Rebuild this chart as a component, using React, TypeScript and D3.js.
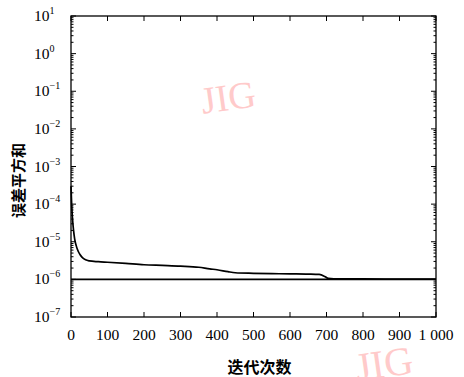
import React, { useEffect, useRef } from 'react';
import * as d3 from 'd3';

// iterations vs. sum of squared error
const iterations = [0, 1, 2, 3, 5, 7, 10, 14, 20, 25, 30, 40, 50, 75, 100, 150, 200, 250, 300, 350, 380, 400, 430, 450, 500, 550, 600, 650, 680, 695, 705, 720, 800, 900, 1000];
const sse = [3e-4, 1.6e-4, 9e-5, 6e-5, 3.2e-5, 2e-5, 1.2e-5, 8e-6, 5.5e-6, 4.5e-6, 3.9e-6, 3.3e-6, 3.1e-6, 2.95e-6, 2.85e-6, 2.65e-6, 2.45e-6, 2.35e-6, 2.25e-6, 2.1e-6, 1.9e-6, 1.8e-6, 1.6e-6, 1.5e-6, 1.45e-6, 1.42e-6, 1.4e-6, 1.38e-6, 1.35e-6, 1.2e-6, 1.06e-6, 1.04e-6, 1.03e-6, 1.02e-6, 1.02e-6];
const goal = 1e-6;
const xTicks = [0, 100, 200, 300, 400, 500, 600, 700, 800, 900, 1000];
const yExponents = [1, 0, -1, -2, -3, -4, -5, -6, -7];
const xTitle = '迭代次数';
const yTitle = '误差平方和';

const W = 464;
const H = 377;
const m = { left: 71, right: 436, top: 16, bottom: 317 };

const App = () => {
  const ref = useRef<SVGSVGElement>(null);

  useEffect(() => {
    const svg = d3.select(ref.current);
    svg.selectAll('*').remove();

    const x = d3.scaleLinear().domain([0, 1000]).range([m.left, m.right]);
    const y = d3.scaleLog().domain([1e-7, 10]).range([m.bottom, m.top]);

    const serif = '"Liberation Serif", "DejaVu Serif", serif';
    const cjk = '"Noto Sans CJK SC", sans-serif';

    // watermarks
    svg.append('text')
      .attr('transform', 'translate(230,110) rotate(-8)')
      .attr('text-anchor', 'middle')
      .style('font-family', serif)
      .style('font-size', '38px')
      .attr('fill', '#ffcaca')
      .text('JIG');
    svg.append('text')
      .attr('transform', 'translate(386,377) rotate(-8)')
      .attr('text-anchor', 'middle')
      .style('font-family', serif)
      .style('font-size', '40px')
      .attr('fill', '#ffcaca')
      .text('JIG');

    // frame
    svg.append('rect')
      .attr('x', m.left).attr('y', m.top)
      .attr('width', m.right - m.left).attr('height', m.bottom - m.top)
      .attr('fill', 'none').attr('stroke', '#000').attr('stroke-width', 1.3);

    // x ticks (inward, bottom and top)
    const g = svg.append('g').attr('stroke', '#000').attr('stroke-width', 1);
    xTicks.forEach(t => {
      g.append('line').attr('x1', x(t)).attr('x2', x(t)).attr('y1', m.bottom).attr('y2', m.bottom - 5);
      g.append('line').attr('x1', x(t)).attr('x2', x(t)).attr('y1', m.top).attr('y2', m.top + 5);
    });

    // y ticks, major and log-minor
    yExponents.forEach(e => {
      const v = Math.pow(10, e);
      g.append('line').attr('x1', m.left).attr('x2', m.left + 5).attr('y1', y(v)).attr('y2', y(v));
      g.append('line').attr('x1', m.right).attr('x2', m.right - 5).attr('y1', y(v)).attr('y2', y(v));
      if (e > -7) {
        d3.range(2, 10).forEach(k => {
          const yy = y(v / 10 * k);
          g.append('line').attr('x1', m.left).attr('x2', m.left + 2.5).attr('y1', yy).attr('y2', yy);
          g.append('line').attr('x1', m.right).attr('x2', m.right - 2.5).attr('y1', yy).attr('y2', yy);
        });
      }
    });

    // x tick labels
    svg.append('g').selectAll('text').data(xTicks).enter().append('text')
      .attr('x', d => x(d))
      .attr('y', m.bottom + 23)
      .attr('text-anchor', 'middle')
      .style('font-family', serif)
      .style('font-size', '15.5px')
      .text(d => d === 1000 ? '1 000' : String(d));

    // y tick labels 10^n
    const yl = svg.append('g').selectAll('text').data(yExponents).enter().append('text')
      .attr('x', 34)
      .attr('y', d => y(Math.pow(10, d)) + 5)
      .style('font-family', serif)
      .style('font-size', '15.5px');
    yl.append('tspan').text('10');
    yl.append('tspan')
      .attr('dy', -7)
      .style('font-size', '10px')
      .text(d => d < 0 ? '\u2212' + Math.abs(d) : String(d));

    // axis titles
    svg.append('text')
      .attr('x', (m.left + m.right) / 2 + 6)
      .attr('y', 373)
      .attr('text-anchor', 'middle')
      .style('font-family', cjk)
      .style('font-weight', 'bold')
      .style('font-size', '16px')
      .text(xTitle);
    svg.append('text')
      .attr('transform', `translate(24,${(m.top + m.bottom) / 2 + 14}) rotate(-90)`)
      .attr('text-anchor', 'middle')
      .style('font-family', cjk)
      .style('font-weight', 'bold')
      .style('font-size', '15px')
      .text(yTitle);

    // goal line
    svg.append('line')
      .attr('x1', x(0)).attr('x2', x(1000))
      .attr('y1', y(goal)).attr('y2', y(goal))
      .attr('stroke', '#000').attr('stroke-width', 1.8);

    // training curve
    const line = d3.line<number>()
      .x((d, i) => x(iterations[i]))
      .y(d => y(d))
      .curve(d3.curveMonotoneX);
    svg.append('path')
      .datum(sse)
      .attr('d', line)
      .attr('fill', 'none')
      .attr('stroke', '#000')
      .attr('stroke-width', 1.7);
  }, []);

  return (
    <svg
      ref={ref}
      width={W}
      height={H}
      style={{ position: 'absolute', left: 0, top: 0, background: '#fff' }}
    />
  );
};

export default App;
